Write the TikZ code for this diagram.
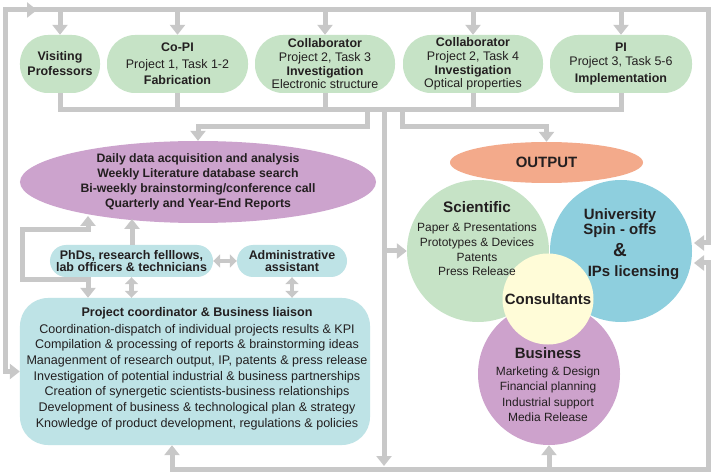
\documentclass[tikz,border=0pt]{standalone}
\usepackage{fontspec}
\setmainfont{Liberation Sans}
\usetikzlibrary{arrows.meta,shapes.geometric}
\definecolor{lgreen}{HTML}{C6E3C6}
\definecolor{lpurple}{HTML}{CCA3CD}
\definecolor{lblue}{HTML}{BEE3E6}
\definecolor{ublue}{HTML}{8ECFDE}
\definecolor{lorange}{HTML}{F3AA8B}
\definecolor{lyellow}{HTML}{FFFCD8}
\definecolor{bpurple}{HTML}{CDA2CC}
\definecolor{lgray}{HTML}{C8C8C8}
\definecolor{txt}{HTML}{231F20}
\begin{document}
\begin{tikzpicture}[x=1bp,y=-1bp,
  conn/.style={draw=lgray,line width=5bp},
  arr/.style={conn,-{Triangle[width=15bp,length=10bp]}},
  both/.style={conn,{Triangle[width=15bp,length=10bp]}-{Triangle[width=15bp,length=10bp]}},
  dbl/.style={conn,line width=4.5bp,{Triangle[width=13bp,length=7bp]}-{Triangle[width=13bp,length=7bp]}},
  topbox/.style={fill=lgreen,rounded corners=28bp,minimum height=58bp,inner sep=0pt,align=center,text=txt},
  bluebox/.style={fill=lblue,rounded corners=16bp,minimum height=32bp,inner sep=0pt,align=center,text=txt,font=\bfseries\fontsize{12.5}{12.5}\selectfont},
  disc/.style={circle,inner sep=0pt,minimum size=142bp},
  lbl/.style={align=center,text=txt,inner sep=0pt}
]
\useasboundingbox[fill=white] (0,0) rectangle (713,474);

% top row
\node[topbox,minimum width=80bp,font=\bfseries\fontsize{12.5}{15}\selectfont] (vis) at (60,64) {Visiting\\Professors};
\node[topbox,minimum width=141bp,font=\fontsize{12.5}{16.5}\selectfont] (copi) at (177.5,64) {\textbf{Co-PI}\\Project 1, Task 1-2\\\textbf{Fabrication}};
\node[topbox,minimum width=140bp,font=\fontsize{12.5}{13.7}\selectfont] (col1) at (325,64) {\textbf{Collaborator}\\Project 2, Task 3\\\textbf{Investigation}\\Electronic structure};
\node[topbox,minimum width=140bp,font=\fontsize{12.5}{13.7}\selectfont] (col2) at (473,64) {\textbf{Collaborator}\\Project 2, Task 4\\\textbf{Investigation}\\Optical properties};
\node[topbox,minimum width=142bp,font=\fontsize{12.5}{15.5}\selectfont] (pi) at (621,64) {\textbf{PI}\\[-1.5bp]Project 3, Task 5-6\\[1.5bp]\textbf{Implementation}};

% left block
\node[ellipse,fill=lpurple,minimum width=356bp,minimum height=82bp,inner sep=0pt,align=center,text=txt,font=\bfseries\fontsize{12.3}{15}\selectfont] (plan) at (198,182) {Daily data acquisition and analysis\\Weekly Literature database search\\Bi-weekly brainstorming/conference call\\Quarterly and Year-End Reports};
\node[bluebox,minimum width=163bp] (phd) at (131.5,261) {PhDs, research felllows,\\lab officers \& technicians};
\node[bluebox,minimum width=110bp] (adm) at (292,261) {Administrative\\assistant};
\node[fill=lblue,rounded corners=28bp,minimum width=350bp,minimum height=147bp,inner sep=0pt] (pc) at (195,371.5) {};
\node[lbl,font=\fontsize{12.6}{15.7}\selectfont] (pct) at (197,368.5) {\textbf{Project coordinator \& Business liaison}\\[1.3bp]
Coordination-dispatch of individual projects results \& KPI\\
Compilation \& processing of reports \& brainstorming ideas\\
Managenment of research output, IP, patents \& press release\\
Investigation of potential industrial \& business partnerships\\
Creation of synergetic scientists-business relationships\\
Development of business \& technological plan \& strategy\\
Knowledge of product development, regulations \& policies};

% output block
\node[ellipse,fill=lorange,minimum width=193bp,minimum height=41bp,inner sep=0pt,text=txt,font=\bfseries\fontsize{15}{15}\selectfont] (out) at (546.5,162.5) {OUTPUT};
\node[disc,fill=lgreen] (sci) at (478,251) {};
\node[disc,fill=ublue] (uni) at (621,251) {};
\node[disc,fill=bpurple] (bus) at (549,374) {};
\node[circle,fill=lyellow,minimum size=91bp,inner sep=0pt,text=txt,font=\bfseries\fontsize{15}{15}\selectfont] (cons) at (548,299) {Consultants};
\node[lbl,font=\fontsize{12}{14.7}\selectfont] (scit) at (477,238.5) {{\bfseries\fontsize{15.3}{15}\selectfont Scientific}\\[5.3bp]
Paper \& Presentations\\Prototypes \& Devices\\Patents\\Press Release};
\node[lbl,font=\bfseries\fontsize{15}{15}\selectfont] (unit) at (620,244) {University\\Spin - offs\\[5bp]{\fontsize{19}{19}\selectfont\&}\\[5bp]\hspace*{27bp}IPs licensing};
\node[lbl,font=\fontsize{12}{15.5}\selectfont] (bust) at (548,384.5) {{\bfseries\fontsize{15}{15}\selectfont Business}\\[1.5bp]
Marketing \& Design\\Financial planning\\Industrial support\\Media Release};

% coordinates
\coordinate (tl) at (5,10);
\coordinate (tr) at (708,10);
\coordinate (tm) at (37,10);
\coordinate (bl) at (172,469);
\coordinate (br) at (708,469);
\coordinate (ua) at (694,243);
\coordinate (ub) at (694,263);
\coordinate (cy) at (0,110);
\coordinate (py) at (0,127);
\coordinate (b1) at (367,110);
\coordinate (b2) at (384,110);
\coordinate (b3) at (402,110);
\coordinate (bd) at (384,466);
\coordinate (l1) at (88,216);
\coordinate (l2) at (88,230);
\coordinate (l3) at (22,230);
\coordinate (l4) at (22,280);
\coordinate (l5) at (88,280);
\coordinate (pu) at (132,219);

% outer loops
\draw[both] (pc.west) -| (tl) -- (tr) |- (ua);
\draw[arr] (tl) -- (tm);
\foreach \n in {vis,copi,col1,col2,pi} \draw[arr] (\n.north |- tl) -- (\n.north);
\draw[both] (pc.south -| bl) -- (bl) -- (br) |- (ub);
\draw[arr] (bus.south |- bl) -- (bus.south);

% collecting bus
\draw[conn] (vis.south) -- (vis.south |- cy) -- (pi.south |- cy) -- (pi.south);
\foreach \n in {copi,col1,col2} \draw[conn] (\n.south) -- (\n.south |- cy);
\draw[arr] (b1) -- (b1 |- py) -| (plan.north);
\draw[arr] (b3) -- (b3 |- py) -| (out.north);
\draw[arr] (b2) -- (bd);
\draw[arr] (b2 |- sci.west) -- (sci.west);

% left block connectors
\draw[both] (l1) -- (l2) -- (l3) -- (l4) -- (l5) -- (pc.north -| l5);
\draw[arr] (phd.north -| pu) -- (pu);
\draw[dbl] (phd.east) -- (adm.west);
\draw[dbl] (phd.south) -- (pc.north -| phd.south);
\draw[dbl] (adm.south) -- (pc.north -| adm.south);
\end{tikzpicture}
\end{document}
